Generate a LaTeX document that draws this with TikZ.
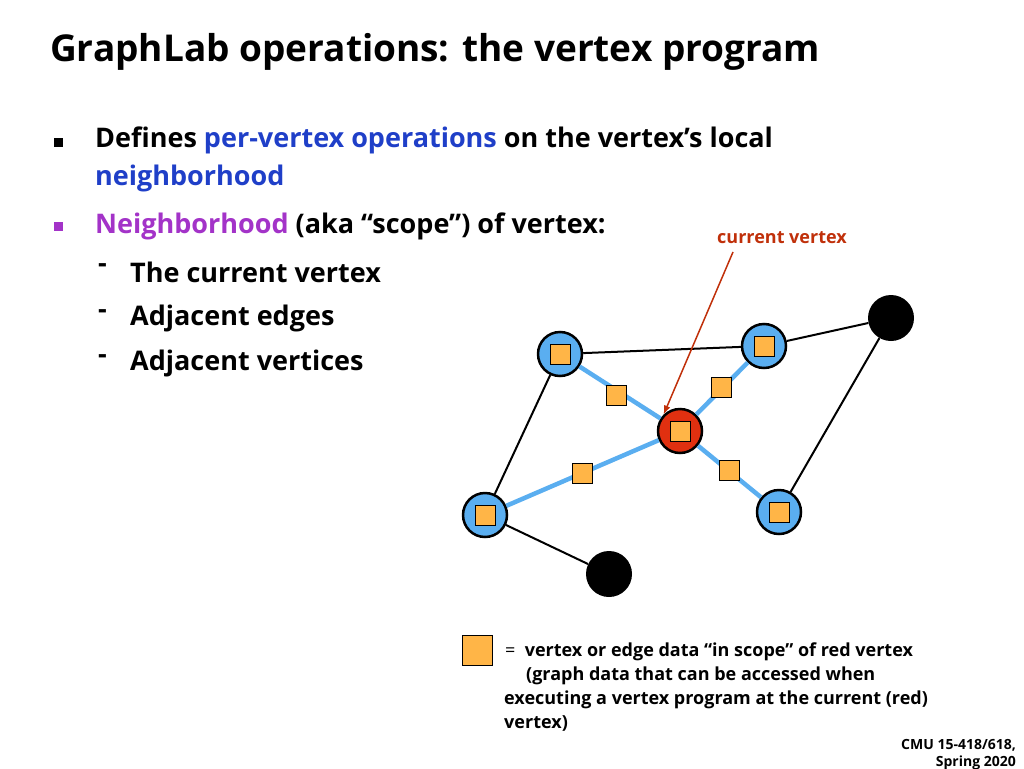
\documentclass[tikz,border=0pt]{standalone}
\usepackage{fontspec}
\usetikzlibrary{arrows.meta}
\setmainfont{Open Sans}
\begin{document}
\begin{tikzpicture}[x=1pt,y=-1pt,
 bv/.style={circle,draw=black,line width=2.5pt,fill=vblue,minimum size=44pt,inner sep=0},
 rv/.style={circle,draw=black,line width=2.5pt,fill=vred,minimum size=44pt,inner sep=0},
 kv/.style={circle,fill=black,minimum size=46pt,inner sep=0},
 sq/.style={draw=black,line width=0.8pt,fill=sqc,minimum size=20pt,inner sep=0},
 ke/.style={line width=2pt,black},
 be/.style={line width=4.5pt,eblue},
 tx/.style={font=\fontsize{27}{32}\selectfont\bfseries,anchor=west,inner sep=0},
 sm/.style={font=\fontsize{18}{23}\selectfont\bfseries,anchor=west,inner sep=0}]
\definecolor{vblue}{HTML}{5AAEF0}\definecolor{eblue}{HTML}{5AAEF0}
\definecolor{vred}{HTML}{E03010}\definecolor{sqc}{HTML}{FFB547}
\definecolor{tblue}{HTML}{1F3FC8}\definecolor{tpurp}{HTML}{A333C8}\definecolor{cred}{HTML}{C0300A}
\useasboundingbox (0,0) rectangle (1024,768);
\node[anchor=west,inner sep=0,font=\fontsize{37}{44}\selectfont\bfseries] (title) at (50,52) {GraphLab operations: the vertex program};
\node[fill=black,minimum size=9pt,inner sep=0] (b1) at (58,142) {};
\node[fill=tpurp,minimum size=9pt,inner sep=0] (b2) at (58,226) {};
\node[tx] (l1) at (95,140) {Defines \textcolor{tblue}{per-vertex operations} on the vertex’s local};
\node[tx,text=tblue] (l2) at (95,178) {neighborhood};
\node[tx] (l3) at (95,226) {\textcolor{tpurp}{Neighborhood} (aka “scope”) of vertex:};
\foreach \y/\t [count=\i] in {272/The current vertex,318/Adjacent edges,363/Adjacent vertices}{
 \node[tx] (d\i) at (98,\y-4) {-};
 \node[tx] (s\i) at (130,\y) {\t};}
\node[bv] (A) at (560,354) {}; \node[bv] (B) at (764,346) {};
\node[kv] (C) at (891,318) {}; \node[rv] (R) at (680,431) {};
\node[bv] (D) at (485,515) {}; \node[bv] (E) at (779,512) {};
\node[kv] (F) at (609,574) {};
\draw[ke] (A)--(B); \draw[ke] (B)--(C); \draw[ke] (A)--(D); \draw[ke] (C)--(E); \draw[ke] (D)--(F);
\draw[be] (A)--(R); \draw[be] (B)--(R); \draw[be] (D)--(R); \draw[be] (E)--(R);
\foreach \n in {A,B,D,E,R}{\node[sq] (q\n) at (\n) {};}
\node[sq] (e1) at (616,395) {}; \node[sq] (e2) at (721,387) {};
\node[sq] (e3) at (582,473) {}; \node[sq] (e4) at (729,470) {};
\node[font=\fontsize{18}{22}\selectfont\bfseries,text=cred,inner sep=0] (cv) at (782,238) {current vertex};
\coordinate (cs) at (733,252);
\draw[cred,line width=1.5pt,-{Latex[length=9pt]}] (cs) -- (R.north west);
\node[draw=black,line width=0.8pt,fill=sqc,minimum size=30pt,inner sep=0] (leg) at (477,650) {};
\node[sm] (t1) at (505,652) {\mdseries=\ \ \bfseries vertex or edge data “in scope” of red vertex};
\node[sm] (t2) at (526,676) {(graph data that can be accessed when};
\node[sm] (t3) at (504,700) {executing a vertex program at the current (red)};
\node[sm] (t4) at (504,723) {vertex)};
\node[anchor=east,inner sep=0,font=\fontsize{14}{16}\selectfont\bfseries] (f1) at (1016,745) {CMU 15-418/618,};
\node[anchor=east,inner sep=0,font=\fontsize{14}{16}\selectfont\bfseries] (f2) at (1016,763) {Spring 2020};
\end{tikzpicture}
\end{document}
